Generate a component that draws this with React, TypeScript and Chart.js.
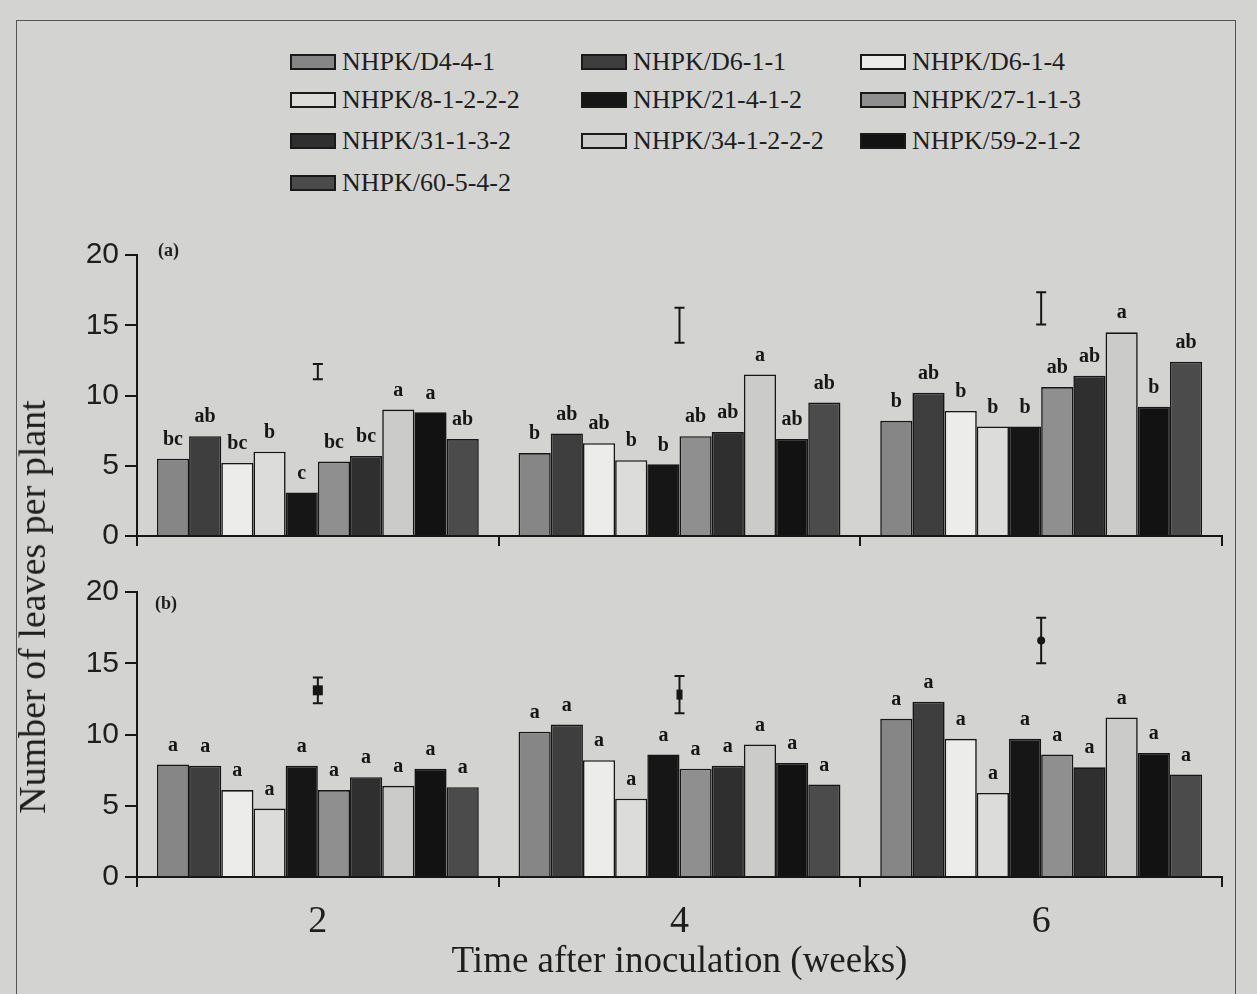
import React, { useEffect, useRef } from "react";
import { Chart, registerables } from "chart.js";
Chart.register(...registerables);

// ---- data ----
const weeks = ["2", "4", "6"];
const isolates = [
  "NHPK/D4-4-1", "NHPK/D6-1-1", "NHPK/D6-1-4", "NHPK/8-1-2-2-2", "NHPK/21-4-1-2",
  "NHPK/27-1-1-3", "NHPK/31-1-3-2", "NHPK/34-1-2-2-2", "NHPK/59-2-1-2", "NHPK/60-5-4-2",
];
const fills = ["#868686", "#3e3e3e", "#ececea", "#dcdcda", "#161616", "#8f8f8f", "#2f2f2f", "#cbcbc9", "#121212", "#4b4b4b"];

// panel (a)
const aWeek2 = [5.5, 7.1, 5.2, 6.0, 3.1, 5.3, 5.7, 9.0, 8.8, 6.9];
const aWeek4 = [5.9, 7.3, 6.6, 5.4, 5.1, 7.1, 7.4, 11.5, 6.9, 9.5];
const aWeek6 = [8.2, 10.2, 8.9, 7.8, 7.8, 10.6, 11.4, 14.5, 9.2, 12.4];
const aLetters2 = ["bc", "ab", "bc", "b", "c", "bc", "bc", "a", "a", "ab"];
const aLetters4 = ["b", "ab", "ab", "b", "b", "ab", "ab", "a", "ab", "ab"];
const aLetters6 = ["b", "ab", "b", "b", "b", "ab", "ab", "a", "b", "ab"];
const aErrCenter = [11.7, 15.0, 16.2];
const aErrHalf = [0.55, 1.25, 1.15];

// panel (b)
const bWeek2 = [7.9, 7.8, 6.1, 4.8, 7.8, 6.1, 7.0, 6.4, 7.6, 6.3];
const bWeek4 = [10.2, 10.7, 8.2, 5.5, 8.6, 7.6, 7.8, 9.3, 8.0, 6.5];
const bWeek6 = [11.1, 12.3, 9.7, 5.9, 9.7, 8.6, 7.7, 11.2, 8.7, 7.2];
const bLetters2 = ["a", "a", "a", "a", "a", "a", "a", "a", "a", "a"];
const bLetters4 = ["a", "a", "a", "a", "a", "a", "a", "a", "a", "a"];
const bLetters6 = ["a", "a", "a", "a", "a", "a", "a", "a", "a", "a"];
const bErrCenter = [13.1, 12.8, 16.6];
const bErrHalf = [0.9, 1.3, 1.6];
const bErrMarker = ["square", "rect", "circle"];

const yTicks = [0, 5, 10, 15, 20];

const INK = "#161616";
const SERIF = "'Liberation Serif', 'Times New Roman', serif";
const SANS = "'Liberation Sans', Arial, sans-serif";

const annotatePlugin = {
  id: "annotate",
  afterDatasetsDraw(chart: any, _args: any, opts: any) {
    const ctx = chart.ctx;
    const xs = chart.scales.x;
    const ys = chart.scales.y;
    ctx.save();
    // letters above bars
    ctx.fillStyle = INK;
    ctx.font = `bold 20px ${SERIF}`;
    ctx.textAlign = "center";
    ctx.textBaseline = "bottom";
    chart.data.datasets.forEach((_ds: any, i: number) => {
      const meta = chart.getDatasetMeta(i);
      meta.data.forEach((bar: any, j: number) => {
        const t = opts.letters[j][i];
        ctx.fillText(t, bar.x, bar.y - 9);
      });
    });
    // error bars
    ctx.strokeStyle = INK;
    ctx.lineWidth = 2;
    opts.errCenter.forEach((c: number, j: number) => {
      const x = xs.getPixelForValue(j);
      const yTop = ys.getPixelForValue(c + opts.errHalf[j]);
      const yBot = ys.getPixelForValue(c - opts.errHalf[j]);
      const yMid = ys.getPixelForValue(c);
      ctx.beginPath();
      ctx.moveTo(x, yTop);
      ctx.lineTo(x, yBot);
      ctx.moveTo(x - 5, yTop);
      ctx.lineTo(x + 5, yTop);
      ctx.moveTo(x - 5, yBot);
      ctx.lineTo(x + 5, yBot);
      ctx.stroke();
      const m = opts.marker ? opts.marker[j] : null;
      ctx.fillStyle = INK;
      if (m === "square") ctx.fillRect(x - 5, yMid - 5, 10, 10);
      else if (m === "rect") ctx.fillRect(x - 3, yMid - 5, 6, 10);
      else if (m === "circle") {
        ctx.beginPath();
        ctx.arc(x, yMid, 4, 0, Math.PI * 2);
        ctx.fill();
      }
    });
    ctx.restore();
  },
};

function buildConfig(values: number[][], letters: string[][], errCenter: number[], errHalf: number[], marker: string[] | null, showX: boolean, axisHeight: number, padTop: number) {
  return {
    type: "bar" as const,
    data: {
      labels: weeks,
      datasets: isolates.map((name, i) => ({
        label: name,
        data: values.map((w) => w[i]),
        backgroundColor: fills[i],
        borderColor: INK,
        borderWidth: 1.6,
        barPercentage: 1.0,
        categoryPercentage: 0.89,
      })),
    },
    options: {
      responsive: false,
      animation: false as const,
      layout: { padding: { left: 0, right: 35, top: padTop, bottom: 0 } },
      plugins: {
        legend: { display: false },
        tooltip: { enabled: false },
        annotate: { letters, errCenter, errHalf, marker },
      },
      scales: {
        y: {
          min: 0,
          max: 20,
          afterBuildTicks: (s: any) => { s.ticks = yTicks.map((v) => ({ value: v })); },
          afterFit: (s: any) => { s.width = 137; },
          ticks: { color: "#1e1e1e", font: { family: SANS, size: 30 }, padding: 6 },
          grid: { drawOnChartArea: false, drawTicks: true, tickLength: 12, color: INK, lineWidth: 2 },
          border: { color: INK, width: 2 },
        },
        x: {
          afterFit: (s: any) => { s.height = axisHeight; },
          ticks: { display: showX, color: "#1e1e1e", font: { family: SERIF, size: 38 }, padding: 12 },
          grid: { drawOnChartArea: false, drawTicks: true, tickLength: 10, color: INK, lineWidth: 2, offset: true },
          border: { color: INK, width: 2 },
          title: {
            display: showX,
            text: "Time after inoculation (weeks)",
            color: "#1e1e1e",
            font: { family: SERIF, size: 37 },
            padding: { top: 0, bottom: 6 },
          },
        },
      },
    },
    plugins: [annotatePlugin],
  };
}

function Panel(props: { top: number; height: number; cfg: any }) {
  const ref = useRef<HTMLCanvasElement>(null);
  useEffect(() => {
    if (!ref.current) return;
    const chart = new Chart(ref.current, props.cfg);
    return () => chart.destroy();
  }, []);
  return (
    <canvas
      ref={ref}
      width={1257}
      height={props.height}
      style={{ position: "absolute", left: 0, top: props.top, width: 1257, height: props.height }}
    />
  );
}

const legendCols = [290, 581, 860];
const legendRows = [62, 100, 141, 183];

export default function App() {
  const cfgA = buildConfig([aWeek2, aWeek4, aWeek6], [aLetters2, aLetters4, aLetters6], aErrCenter, aErrHalf, null, false, 22, 30);
  const cfgB = buildConfig([bWeek2, bWeek4, bWeek6], [bLetters2, bLetters4, bLetters6], bErrCenter, bErrHalf, bErrMarker, true, 113, 27);
  return (
    <div style={{ position: "fixed", left: 0, top: 0, width: 1257, height: 994, background: "#d3d3d1", overflow: "hidden", fontFamily: SERIF }}>
      <div style={{ position: "absolute", left: 16, top: 20, width: 1218, height: 1000, border: "1.5px solid #555" }} />
      {isolates.map((name, i) => (
        <div key={name} style={{ position: "absolute", left: legendCols[i % 3], top: legendRows[Math.floor(i / 3)] - 15, height: 30, display: "flex", alignItems: "center", whiteSpace: "nowrap" }}>
          <div style={{ width: 42, height: 12, background: fills[i], border: "2px solid #1a1a1a", marginRight: 6 }} />
          <span style={{ fontSize: 26, color: "#1e1e1e" }}>{name}</span>
        </div>
      ))}
      <Panel top={225} height={335} cfg={cfgA} />
      <Panel top={565} height={425} cfg={cfgB} />
      <div style={{ position: "absolute", left: 158, top: 240, fontSize: 18, fontWeight: "bold", color: "#1e1e1e" }}>(a)</div>
      <div style={{ position: "absolute", left: 155, top: 593, fontSize: 18, fontWeight: "bold", color: "#1e1e1e" }}>(b)</div>
      <div style={{ position: "absolute", left: 32, top: 607, transform: "translate(-50%, -50%) rotate(-90deg)", fontSize: 38, whiteSpace: "nowrap", color: "#1e1e1e" }}>
        Number of leaves per plant
      </div>
    </div>
  );
}
